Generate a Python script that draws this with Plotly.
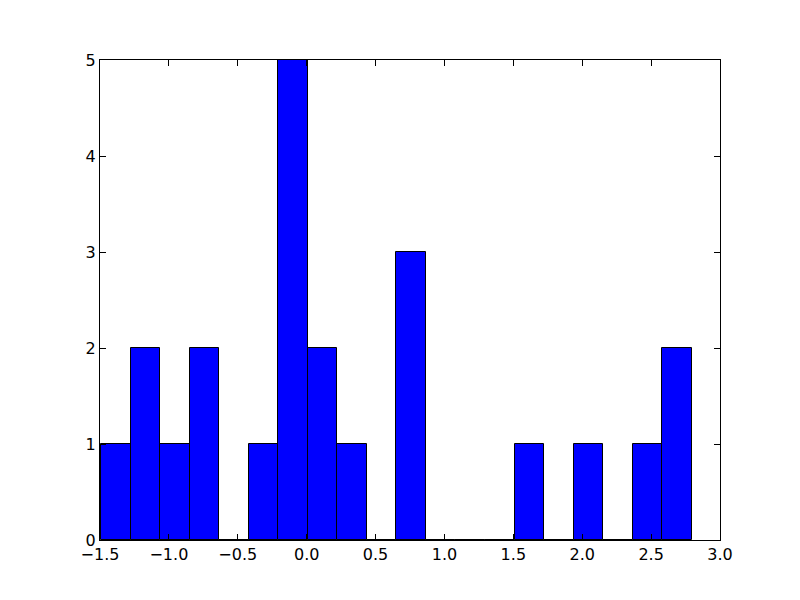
import plotly.graph_objects as go

bin_start = -1.493
bin_width = 0.2144
counts = [1, 2, 1, 2, 0, 1, 5, 2, 1, 0, 3, 0, 0, 0, 1, 0, 1, 0, 1, 2]
x_ticks = [-1.5, -1.0, -0.5, 0.0, 0.5, 1.0, 1.5, 2.0, 2.5, 3.0]
y_ticks = [0, 1, 2, 3, 4, 5]

centers = [bin_start + bin_width * (i + 0.5) for i in range(len(counts))]

fig = go.Figure(go.Bar(
    x=centers, y=counts, width=[bin_width] * len(counts),
    marker=dict(color="#0000ff", line=dict(color="black", width=1)),
))

axis_common = dict(
    showline=True, linecolor="black", linewidth=1, mirror="allticks",
    ticks="inside", ticklen=6, tickcolor="black", tickwidth=1,
    showgrid=False, zeroline=False,
    tickfont=dict(family="DejaVu Sans", size=16, color="black"),
)

fig.update_layout(
    width=800, height=600,
    margin=dict(l=92, r=88, t=52, b=68),
    paper_bgcolor="white", plot_bgcolor="white",
    showlegend=False, bargap=0,
    xaxis=dict(range=[-1.5, 3.0], tickvals=x_ticks, tickformat=".1f", **axis_common),
    yaxis=dict(range=[0, 5], tickvals=y_ticks, **axis_common),
)

fig.write_html("out.html")
